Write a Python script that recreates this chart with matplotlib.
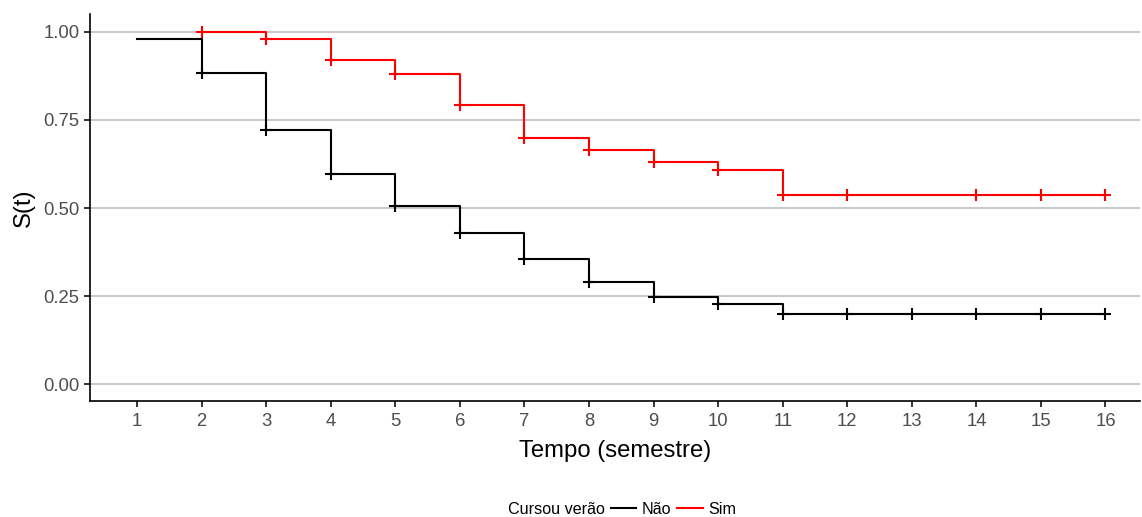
import matplotlib
matplotlib.use("Agg")
import matplotlib.pyplot as plt
from matplotlib.lines import Line2D

plt.rcParams['font.family'] = ['Liberation Sans', 'DejaVu Sans']

# Kaplan-Meier estimates by group
tempo_nao = [1, 2, 3, 4, 5, 6, 7, 8, 9, 10, 11, 12, 13, 14, 15, 16]
surv_nao = [0.980, 0.884, 0.722, 0.597, 0.506, 0.428, 0.355, 0.290,
            0.247, 0.227, 0.199, 0.199, 0.199, 0.199, 0.199, 0.199]
cens_nao = [2, 3, 4, 5, 6, 7, 8, 9, 10, 11, 12, 13, 14, 15, 16]

tempo_sim = [2, 3, 4, 5, 6, 7, 8, 9, 10, 11, 12, 13, 14, 15, 16]
surv_sim = [1.000, 0.980, 0.920, 0.880, 0.792, 0.699, 0.665, 0.631,
            0.607, 0.538, 0.538, 0.538, 0.538, 0.538, 0.538]
cens_sim = [2, 3, 4, 5, 6, 7, 8, 9, 10, 11, 12, 14, 15, 16]

grupos = ["Não", "Sim"]
cores = ["black", "#FF0000"]

fig = plt.figure(figsize=(11.42, 5.17), dpi=100)
ax = fig.add_axes([0.0788, 0.2244, 0.9192, 0.7486])

for tempo, surv, cens, cor in [(tempo_nao, surv_nao, cens_nao, cores[0]),
                               (tempo_sim, surv_sim, cens_sim, cores[1])]:
    ax.step(tempo, surv, where='post', color=cor, lw=1.5, zorder=3)
    lookup = dict(zip(tempo, surv))
    ax.plot(cens, [lookup[t] for t in cens], ls='none', marker='+',
            ms=9, mew=1.5, color=cor, zorder=4)

ax.set_xlim(0.27, 16.53)
ax.set_ylim(-0.048, 1.051)
ax.set_xticks(range(1, 17))
ax.set_yticks([0, 0.25, 0.5, 0.75, 1.0])
ax.set_yticklabels(["0.00", "0.25", "0.50", "0.75", "1.00"])
ax.grid(axis='y', color='#BEBEBE', lw=1.2)
ax.set_axisbelow(True)
for s in ['top', 'right']:
    ax.spines[s].set_visible(False)
for s in ['left', 'bottom']:
    ax.spines[s].set_linewidth(1.2)
ax.tick_params(labelsize=13.3, labelcolor='#4D4D4D', length=4, width=1.1)
ax.tick_params(axis='x', pad=5)
ax.set_xlabel("Tempo (semestre)", fontsize=17.2, labelpad=7)
ax.set_ylabel("S(t)", fontsize=17.2, labelpad=6)

fig.text(0.530, 0.0, "Cursou verão", fontsize=11.6, ha='right', va='bottom')
handles = [Line2D([], [], color=c, lw=1.5) for c in cores]
fig.legend(handles, grupos, loc='lower left', bbox_to_anchor=(0.522, -0.028),
           ncol=2, frameon=False, fontsize=11.6, handlelength=1.6,
           handletextpad=0.3, columnspacing=0.4)

fig.savefig("out.png", dpi=100)
